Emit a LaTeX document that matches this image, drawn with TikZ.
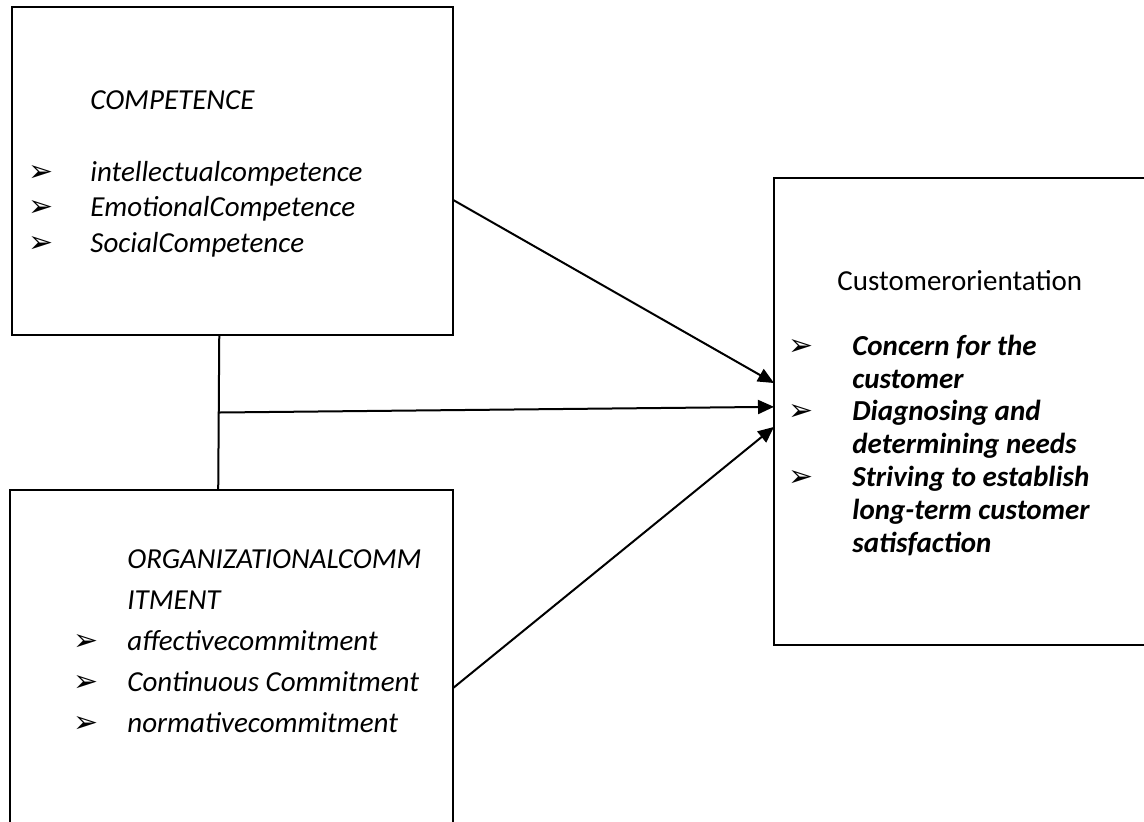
\documentclass[tikz,border=0pt]{standalone}
\usepackage{fontspec}
\setmainfont{Carlito}
\newfontfamily\dingfont{DejaVu Sans}
\usetikzlibrary{arrows.meta,calc}
\newcommand{\bul}{{\dingfont\upshape\mdseries\fontsize{15}{15}\selectfont ➢}}
\newcommand{\itm}[1][18.5pt]{\llap{\bul\hspace{#1}}}

\begin{document}
\begin{tikzpicture}[x=0.5pt,y=-0.5pt,
  font=\fontsize{14.5}{17}\selectfont,
  box/.style={draw, line width=1.1pt, inner sep=0pt, outer sep=0pt, anchor=north west},
  txt/.style={anchor=base west, align=left, inner sep=0pt},
  arr/.style={-{Triangle[length=8pt,width=7pt]}, line width=1pt}]
  \useasboundingbox (0,0) rectangle (1144,821);
  \clip (0,0) rectangle (1144,821);

  % the three boxes
  \node[box, minimum width=220.5pt, minimum height=164pt] (comp) at (12,7) {};
  \node[box, minimum width=221.5pt, minimum height=175pt] (org) at (10,490) {};
  \node[box, minimum width=193pt, minimum height=233.5pt] (cust) at (774,178) {};

  % texts (base = baseline of the last line)
  \node[txt, font=\fontsize{14.5}{17.75}\selectfont\itshape] (compt) at (90,252)
    {COMPETENCE\\[18.25pt]
     \itm intellectualcompetence\\
     \itm EmotionalCompetence\\
     \itm SocialCompetence};
  \node[txt, font=\fontsize{14.5}{20.5}\selectfont\itshape] (orgt) at (127,732)
    {ORGANIZATIONALCOMM\\
     ITMENT\\
     \itm[14.5pt]affectivecommitment\\
     \itm[14.5pt]Continuous Commitment\\
     \itm[14.5pt]normativecommitment};
  \node[txt] (custt) at (837,290) {Customerorientation};
  \node[txt, font=\fontsize{14.5}{16.4}\selectfont\bfseries\itshape] (custl) at (852,552)
    {\itm[19.5pt]Concern for the\\
     customer\\
     \itm[19.5pt]Diagnosing and\\
     determining needs\\
     \itm[19.5pt]Striving to establish\\
     long-term customer\\
     satisfaction};

  % connectors
  \coordinate (j1) at ($(comp.south west)!0.47!(comp.south east)$);
  \coordinate (j2) at ($(org.north west)!0.47!(org.north east)$);
  \coordinate (jm) at ($(j1)!0.5!(j2)$);
  \coordinate (s1) at ($(comp.north east)!0.588!(comp.south east)$);
  \coordinate (s3) at ($(org.north east)!0.566!(org.south east)$);
  \coordinate (e1) at ($(cust.north west)!0.439!(cust.south west)$);
  \coordinate (e2) at ($(cust.north west)!0.49!(cust.south west)$);
  \coordinate (e3) at ($(cust.north west)!0.533!(cust.south west)$);
  \draw[line width=1pt] (j1) -- (j2);
  \draw[arr] (s1) -- (e1);
  \draw[arr] (jm) -- (e2);
  \draw[arr] (s3) -- (e3);
\end{tikzpicture}
\end{document}
